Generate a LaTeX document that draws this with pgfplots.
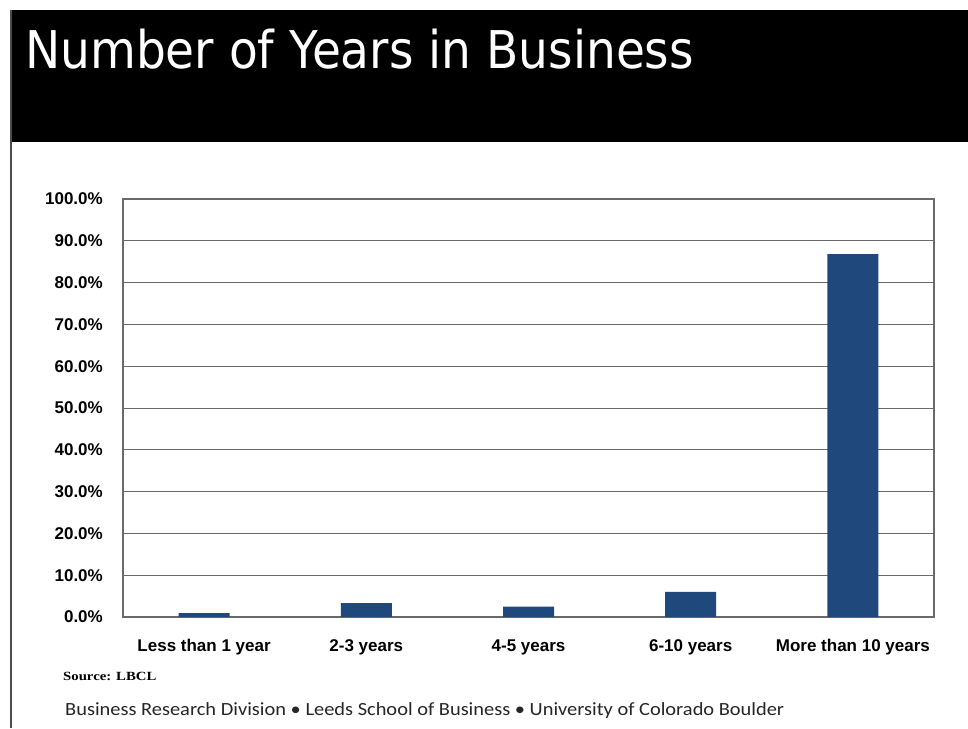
\documentclass[border=0pt]{standalone}
\usepackage{fontspec}
\usepackage{pgfplots}
\pgfplotsset{compat=1.18}
\setmainfont{Liberation Sans}
\newfontfamily\titlefont[FakeStretch=0.905]{DejaVu Sans}
\newfontfamily\tickfont{Liberation Sans}
\newfontfamily\srcfont{Liberation Serif}
\newfontfamily\footfont{Carlito}
\definecolor{barblue}{RGB}{31,73,125}
\definecolor{gridgray}{RGB}{105,105,105}
\begin{document}
\begin{tikzpicture}[x=1pt,y=1pt]
\useasboundingbox (0,0) rectangle (968,-728);
\fill[white] (0,0) rectangle (968,-728);
\fill[black] (11,-10) rectangle (968,-142);
\draw[gray!60!black, line width=2pt] (11,-10) -- (11,-728);
\node[anchor=base west, inner sep=0pt, text=white] at (25,-68) {\titlefont\fontsize{52pt}{60pt}\selectfont Number of Years in Business};
\begin{axis}[
  at={(123pt,-617pt)}, anchor=south west,
  scale only axis, width=811pt, height=418pt,
  xmin=-0.5, xmax=4.5, ymin=0, ymax=100,
  ytick={0,10,...,100},
  xtick={0,1,2,3,4},
  xticklabels={Less than 1 year, 2-3 years, 4-5 years, 6-10 years, More than 10 years},
  /pgf/number format/assume math mode=true,
  yticklabel={\pgfmathprintnumber[fixed,fixed zerofill,precision=1]{\tick}\%},
  yticklabel style={anchor=east, inner sep=0pt, xshift=-20pt, font=\tickfont\bfseries\fontsize{17pt}{20pt}\selectfont},
  xticklabel style={anchor=base, inner sep=0pt, yshift=-34pt, font=\tickfont\bfseries\fontsize{17pt}{20pt}\selectfont},
  major tick length=0pt,
  ymajorgrids,
  grid style={gridgray, line width=1pt},
  axis line style={gridgray, line width=1.3pt},
  ybar, bar width=51pt,
]
\addplot[fill=barblue, draw=none] coordinates {(0,0.9) (1,3.3) (2,2.5) (3,6.0) (4,86.8)};
\end{axis}
\node[anchor=base west, inner sep=0pt] at (63,-680) {\scalebox{1.18}[1]{\srcfont\bfseries\fontsize{12.5pt}{14pt}\selectfont Source: LBCL}};
\node[anchor=base west, inner sep=0pt, text=black!85] at (65,-715) {\scalebox{1.098}[1]{\footfont\fontsize{18.6pt}{22pt}\selectfont Business Research Division • Leeds School of Business • University of Colorado Boulder}};
\end{tikzpicture}
\end{document}
